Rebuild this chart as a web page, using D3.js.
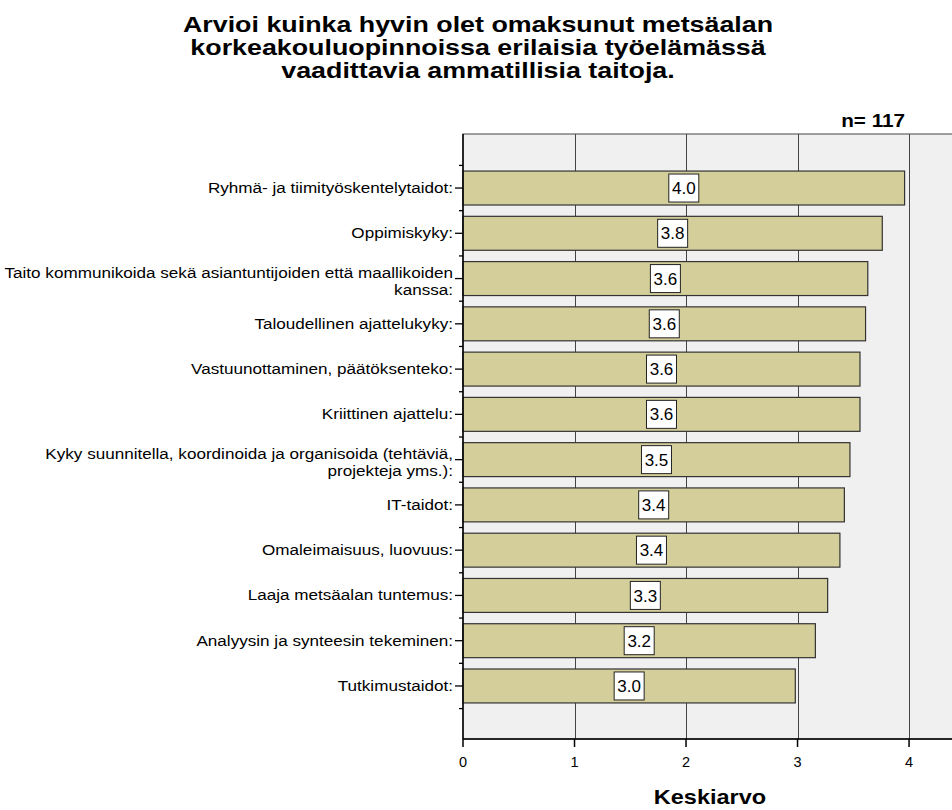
<!DOCTYPE html>
<html><head><meta charset="utf-8">
<script src="https://cdn.jsdelivr.net/npm/d3@7"></script>
<style>body{margin:0;background:#fff}svg text{font-family:"Liberation Sans",Arial,sans-serif}</style>
</head><body>
<svg id="c" width="952" height="810"></svg>
<script>
const categories = [
  ["Ryhmä- ja tiimityöskentelytaidot:"],
  ["Oppimiskyky:"],
  ["Taito kommunikoida sekä asiantuntijoiden että maallikoiden", "kanssa:"],
  ["Taloudellinen ajattelukyky:"],
  ["Vastuunottaminen, päätöksenteko:"],
  ["Kriittinen ajattelu:"],
  ["Kyky suunnitella, koordinoida ja organisoida (tehtäviä,", "projekteja yms.):"],
  ["IT-taidot:"],
  ["Omaleimaisuus, luovuus:"],
  ["Laaja metsäalan tuntemus:"],
  ["Analyysin ja synteesin tekeminen:"],
  ["Tutkimustaidot:"]
];
const values = [3.96, 3.76, 3.63, 3.61, 3.56, 3.56, 3.47, 3.42, 3.38, 3.27, 3.16, 2.98];
const valueLabels = ["4.0","3.8","3.6","3.6","3.6","3.6","3.5","3.4","3.4","3.3","3.2","3.0"];
const xTicks = [0,1,2,3,4];
const title = ["Arvioi kuinka hyvin olet omaksunut metsäalan","korkeakouluopinnoissa erilaisia työelämässä","vaadittavia ammatillisia taitoja."];

const svg = d3.select("#c");
const plotL = 463, plotR = 957, plotT = 134, plotB = 739;
const x = d3.scaleLinear().domain([0, 4.43]).range([plotL, plotR]);
const y = d3.scaleBand().domain(d3.range(categories.length)).range([165.4, 708.6]).paddingInner(0.25).paddingOuter(0.125);

// title
svg.append("g").selectAll("text").data(title).join("text")
  .attr("transform", (d,i)=>`translate(478,${32+i*23}) scale(1.22,1)`).attr("text-anchor","middle")
  .attr("font-size", 22).attr("font-weight","bold").text(d=>d);
svg.append("text").attr("transform","translate(905,127) scale(1.15,1)").attr("text-anchor","end")
  .attr("font-size", 18).attr("font-weight","bold").text("n= 117");

// plot bg
svg.append("rect").attr("x", plotL).attr("y", plotT).attr("width", plotR-plotL).attr("height", plotB-plotT)
  .attr("fill","#f0f0f0").attr("stroke","#444").attr("stroke-width",1);

// grid
svg.append("g").selectAll("line").data(xTicks.filter(d=>d>0)).join("line")
  .attr("x1", d=>Math.round(x(d))+0.5).attr("x2", d=>Math.round(x(d))+0.5)
  .attr("y1", plotT).attr("y2", plotB).attr("stroke","#444").attr("stroke-width",1);

// bars
svg.append("g").selectAll("rect").data(values).join("rect")
  .attr("x", x(0)).attr("y", (d,i)=>y(i)).attr("width", d=>x(d)-x(0)).attr("height", y.bandwidth())
  .attr("fill","#d4cf9a").attr("stroke","#333").attr("stroke-width",1.2);

// value labels
const lab = svg.append("g").selectAll("g").data(values).join("g")
  .attr("transform",(d,i)=>`translate(${(x(0)+x(d))/2},${y(i)+y.bandwidth()/2})`);
lab.append("rect").attr("x",-15).attr("y",-14).attr("width",30).attr("height",28)
  .attr("fill","#fff").attr("stroke","#222").attr("stroke-width",1);
lab.append("text").attr("text-anchor","middle").attr("dy","0.36em").attr("font-size",17)
  .text((d,i)=>valueLabels[i]);

// y axis
const step = y.step();
const yAxis = svg.append("g");
yAxis.append("line").attr("x1",plotL).attr("x2",plotL).attr("y1",plotT).attr("y2",plotB).attr("stroke","#000").attr("stroke-width",1.5);
const centers = categories.map((c,i)=>y(i)+y.bandwidth()/2);
yAxis.selectAll("line.maj").data(centers).join("line").attr("class","maj")
  .attr("x1",plotL-8).attr("x2",plotL).attr("y1",d=>d).attr("y2",d=>d).attr("stroke","#000").attr("stroke-width",1.3);
const bounds = d3.range(categories.length+1).map(i=>centers[0]-step/2+i*step);
yAxis.selectAll("line.min").data(bounds).join("line").attr("class","min")
  .attr("x1",plotL-4).attr("x2",plotL).attr("y1",d=>d).attr("y2",d=>d).attr("stroke","#000").attr("stroke-width",1.3);
categories.forEach((d,i)=>{
  const n = d.length;
  d.forEach((line,j)=>{
    const yy = centers[i] + 5 + (j-(n-1)/2)*17 + (n>1?3:0);
    yAxis.append("text").attr("transform",`translate(${plotL-10},${yy}) scale(1.14,1)`)
      .attr("text-anchor","end").attr("font-size",15).attr("fill","#000").text(line);
  });
});

// x axis
const xAxis = svg.append("g");
xAxis.append("line").attr("x1",plotL).attr("x2",plotR).attr("y1",plotB).attr("y2",plotB).attr("stroke","#000").attr("stroke-width",1.5);
xAxis.selectAll("line.t").data(xTicks).join("line").attr("class","t")
  .attr("x1",d=>x(d)).attr("x2",d=>x(d)).attr("y1",plotB).attr("y2",plotB+8).attr("stroke","#000").attr("stroke-width",1.5);
xAxis.selectAll("text").data(xTicks).join("text")
  .attr("x",d=>x(d)).attr("y",plotB+28).attr("text-anchor","middle").attr("font-size",14.5).text(d=>d);

svg.append("text").attr("transform","translate(710,804) scale(1.12,1)").attr("text-anchor","middle")
  .attr("font-size",21).attr("font-weight","bold").text("Keskiarvo");
</script>
</body></html>
